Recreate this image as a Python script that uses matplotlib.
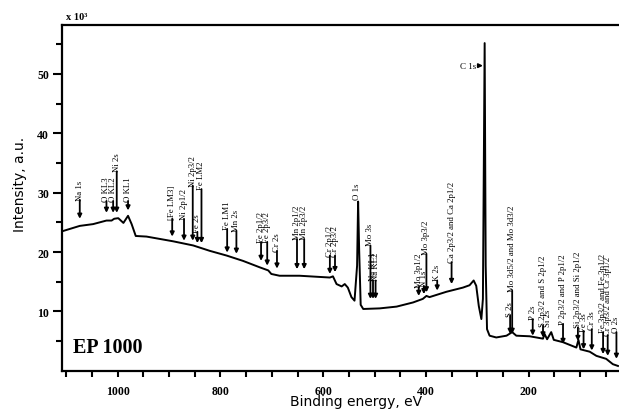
import matplotlib
matplotlib.use("Agg")
import matplotlib.pyplot as plt
from matplotlib.ticker import MultipleLocator, FixedLocator

# ---------------- data (binding energy, eV ; intensity x10^3) ----------------
energy = [1108, 1074, 1048, 1022, 1012, 1007, 999, 989, 980, 973, 965, 944, 918,
          892, 853, 821, 788, 756, 723, 707, 701, 685, 646, 607, 587, 581, 574,
          564, 558, 552, 545, 539, 534, 532, 530, 527, 522, 490, 457, 425, 406,
          399, 393, 360, 328, 315, 307, 302, 297, 292, 289, 285.6, 283.6, 281,
          276, 263, 243, 232, 224, 198, 172, 169, 164, 156, 151, 133, 107, 103,
          99, 81, 68, 49, 36, 26]
intensity = [23.5, 24.4, 24.7, 25.3, 25.3, 25.6, 25.7, 24.9, 26.1, 24.7, 22.7,
             22.6, 22.2, 21.8, 21.1, 20.2, 19.4, 18.5, 17.4, 16.9, 16.3, 16.0,
             16.0, 15.8, 15.7, 15.9, 14.6, 14.2, 14.6, 14.0, 12.4, 11.8, 17.7,
             28.5, 20.5, 11.1, 10.4, 10.5, 10.8, 11.5, 12.1, 12.6, 12.4, 13.3,
             14.0, 14.4, 15.2, 14.3, 10.9, 8.7, 12.1, 55.2, 17.7, 7.0, 5.9, 5.6,
             5.9, 6.5, 5.9, 5.8, 5.4, 6.2, 5.3, 6.5, 5.2, 4.8, 3.9, 5.2, 3.6,
             3.2, 2.5, 2.0, 1.1, 0.8]

peak_labels = ["Na 1s", "O KL3", "O KL2", "Ni 2s", "O KL1", "[Fe LM3]",
               "Ni 2p1/2", "Ni 2p3/2", "Fe 2s", "Fe LM2", "Fe LM1", "Mn 2s",
               "Fe 2p1/2", "Fe 2p3/2", "Cr 2s", "Mn 2p1/2", "Mn 2p3/2",
               "Cr 2p1/2", "Cr 2p3/2", "Mo 3s", "Na KL1", "Na KL2",
               "Mo 3p1/2", "N 1s", "Mo 3p3/2", "K 2s", "Ca 2p3/2 and Ca 2p1/2",
               "S 2s", "Mo 3d5/2 and Mo 3d3/2", "P 2s", "S 2p3/2 and S 2p1/2",
               "P 2p3/2 and P 2p1/2", "Si 2p3/2 and Si 2p1/2", "Fe 3s", "Cr 3s",
               "Fe 3p3/2 and Fe 3p1/2", "Cr 3p3/2 and Cr 3p1/2", "O 2s"]
peak_energies = [1074, 1022, 1009, 1002, 980, 894, 871, 854, 845, 837, 787, 769,
                 721, 709, 690, 651, 637, 587, 577, 508, 503, 498, 414, 404, 399,
                 378, 350, 236, 232, 192, 172, 133, 104, 93, 77, 55, 46, 29]

# ---------------- layout (label bottom / arrow tip heights) ----------------
label_y = [28.8, 28.6, 28.6, 33.6, 28.6, 25.6, 25.6, 31.2, 23.4, 30.6, 23.9, 23.6,
           21.7, 21.7, 20.2, 22.2, 22.2, 19.4, 19.4, 21.1, 15.2, 15.2, 14.1, 14.3,
           19.7, 15.2, 18.3, 9.3, 13.5, 8.7, 7.6, 7.9, 7.3, 6.7, 7.0, 6.5, 6.0, 6.5]
tip_y = [25.6, 26.6, 26.6, 26.6, 27.0, 22.6, 21.9, 21.9, 21.5, 21.5, 19.9, 19.7,
         18.5, 17.7, 17.2, 17.1, 17.1, 16.3, 16.6, 12.1, 12.1, 12.1, 12.6, 12.9,
         13.2, 13.5, 14.6, 6.2, 6.2, 5.9, 5.6, 4.5, 5.0, 3.6, 3.4, 2.8, 2.5, 2.0]

W, H = 619, 410
fig = plt.figure(figsize=(W / 100, H / 100), dpi=100)
ax = fig.add_axes([62.3 / W, 1 - 371.7 / H, (W - 62.3) / W, (371.7 - 25.7) / H])

ax.plot(energy, intensity, color="black", lw=1.4, solid_joinstyle="round")

ax.set_xlim(1108, 24)
ax.set_ylim(0, 58.3)

serif = "Liberation Serif"
for lab, e, ly, ty in zip(peak_labels, peak_energies, label_y, tip_y):
    ax.text(e, ly, lab, rotation=90, ha="center", va="bottom",
            fontsize=6.3, family=serif, color="black")
    ax.annotate("", xy=(e, ty), xytext=(e, ly),
                arrowprops=dict(arrowstyle="-|>", color="black", lw=1.3,
                                mutation_scale=6, shrinkA=0, shrinkB=0))

# labels without arrows
ax.text(535, 29.0, "O 1s", rotation=90, ha="center", va="bottom",
        fontsize=6.3, family=serif)
ax.text(162, 7.6, "Si 2s", rotation=90, ha="center", va="bottom",
        fontsize=6.3, family=serif)
# C 1s horizontal label with arrow
ax.annotate("C 1s", xy=(289, 51.4), xytext=(302, 51.4), ha="right", va="center",
            fontsize=6.5, family=serif,
            arrowprops=dict(arrowstyle="-|>", color="black", lw=1.2,
                            mutation_scale=6, shrinkA=0, shrinkB=0))

ax.text(0.019, 0.04, "EP 1000", transform=ax.transAxes, fontsize=14.5,
        fontweight="bold", family=serif, ha="left", va="bottom")
fig.text(66 / W, 1 - 17 / H, "x 10³", fontsize=7.5, fontweight="bold",
         family=serif, ha="left", va="center")

# axes styling
for s in ["left", "bottom", "top"]:
    ax.spines[s].set_linewidth(1.6)
ax.spines["right"].set_visible(False)

ax.xaxis.set_major_locator(FixedLocator([1000, 800, 600, 400, 200]))
ax.xaxis.set_minor_locator(MultipleLocator(50))
ax.yaxis.set_major_locator(FixedLocator([10, 20, 30, 40, 50]))
ax.yaxis.set_minor_locator(FixedLocator([5, 15, 25, 35, 45, 55]))

ax.tick_params(axis="y", which="major", direction="out", length=6.5, width=1.5,
               pad=3, labelsize=8.5)
ax.tick_params(axis="y", which="minor", direction="out", length=4, width=1.5)
ax.tick_params(axis="x", which="major", direction="out", length=4, width=1.5,
               pad=6, labelsize=8.5)
ax.tick_params(axis="x", which="minor", direction="out", length=4, width=1.5)
ax.tick_params(top=False, right=False, which="both")
for lab in ax.get_xticklabels() + ax.get_yticklabels():
    lab.set_family(serif)
    lab.set_fontweight("bold")

ax.set_xlabel("Binding energy, eV", fontsize=10, family="DejaVu Sans")
ax.xaxis.set_label_coords(0.5276, -0.068)
ax.set_ylabel("Intensity, a.u.", fontsize=10, family="DejaVu Sans")
ax.yaxis.set_label_coords(-0.064, 0.54)

fig.savefig("out.png", dpi=100, facecolor="white")
